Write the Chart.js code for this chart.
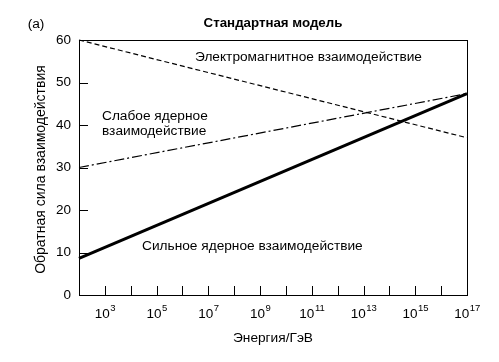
<!DOCTYPE html>
<html>
<head>
<meta charset="utf-8">
<script src="https://cdn.jsdelivr.net/npm/chart.js@4"></script>
<style>
  html, body { margin: 0; padding: 0; background: #fff; }
  canvas { display: block; }
</style>
</head>
<body>
<canvas id="chart" width="499" height="362"></canvas>
<script>
// energy range (GeV) and inverse coupling at both ends
var energy = [1e2, 1e17];
var emInverse = [60, 37];
var weakInverse = [30, 47.4];
var strongInverse = [8.6, 47.4];

var xTickExponents = [3, 4, 5, 6, 7, 8, 9, 10, 11, 12, 13, 14, 15, 16];
var xLabelExponents = [3, 5, 7, 9, 11, 13, 15, 17];
var yTicks = [0, 10, 20, 30, 40, 50, 60];

var FONT = '"Liberation Sans", Arial, sans-serif';

function points(ys) {
  return energy.map(function (e, i) { return { x: e, y: ys[i] }; });
}

var decorations = {
  id: 'decorations',
  afterDraw: function (chart) {
    var ctx = chart.ctx;
    var a = chart.chartArea;
    var xs = chart.scales.x;
    var ys = chart.scales.y;
    ctx.save();
    ctx.strokeStyle = '#000';
    ctx.fillStyle = '#000';
    ctx.lineWidth = 1;

    // frame
    ctx.strokeRect(a.left + 0.5, a.top + 0.5, a.right - a.left, a.bottom - a.top);

    // inward ticks
    ctx.beginPath();
    xTickExponents.forEach(function (p) {
      var px = Math.round(xs.getPixelForValue(Math.pow(10, p))) + 0.5;
      ctx.moveTo(px, a.bottom);
      ctx.lineTo(px, a.bottom - 9);
    });
    yTicks.forEach(function (v) {
      if (v === 0 || v === 60) return;
      var py = Math.round(ys.getPixelForValue(v)) + 0.5;
      ctx.moveTo(a.left, py);
      ctx.lineTo(a.left + 9, py);
    });
    ctx.stroke();

    // y tick labels
    ctx.font = '13.5px ' + FONT;
    ctx.textAlign = 'right';
    ctx.textBaseline = 'middle';
    yTicks.forEach(function (v) {
      ctx.fillText(String(v), a.left - 8, ys.getPixelForValue(v));
    });

    // x tick labels 10^n
    xLabelExponents.forEach(function (p) {
      var px = xs.getPixelForValue(Math.pow(10, p));
      var base = '10', exp = String(p);
      ctx.font = '13.5px ' + FONT;
      var wb = ctx.measureText(base).width;
      ctx.font = '9.5px ' + FONT;
      var we = ctx.measureText(exp).width;
      var x0 = px - (wb + we) / 2;
      ctx.textAlign = 'left';
      ctx.textBaseline = 'alphabetic';
      ctx.font = '13.5px ' + FONT;
      ctx.fillText(base, x0, a.bottom + 23);
      ctx.font = '9.5px ' + FONT;
      ctx.fillText(exp, x0 + wb + 0.5, a.bottom + 16);
    });

    // titles
    ctx.textBaseline = 'middle';
    ctx.textAlign = 'center';
    ctx.font = 'bold 13.3px ' + FONT;
    ctx.fillText('Стандартная модель', (a.left + a.right) / 2, 23);
    ctx.font = '13.7px ' + FONT;
    ctx.fillText('(a)', 36, 24);
    ctx.fillText('Энергия/ГэВ', (a.left + a.right) / 2, 338);

    ctx.save();
    ctx.font = '14px ' + FONT;
    ctx.translate(41, (a.top + a.bottom) / 2 + 2);
    ctx.rotate(-Math.PI / 2);
    ctx.fillText('Обратная сила взаимодействия', 0, 0);
    ctx.restore();

    // line annotations
    ctx.textAlign = 'left';
    ctx.fillText('Электромагнитное взаимодействие', 195, 57);
    ctx.fillText('Слабое ядерное', 102, 116);
    ctx.fillText('взаимодействие', 102, 131);
    ctx.fillText('Сильное ядерное взаимодействие', 142, 246);
    ctx.restore();
  }
};

var ctx = document.getElementById('chart').getContext('2d');
var chart = new Chart(ctx, {
  type: 'line',
  data: {
    datasets: [{
      label: 'Электромагнитное взаимодействие',
      data: points(emInverse),
      borderColor: '#000',
      borderWidth: 1.2,
      borderDash: [5, 3],
      pointRadius: 0
    }, {
      label: 'Слабое ядерное взаимодействие',
      data: points(weakInverse),
      borderColor: '#000',
      borderWidth: 1.2,
      borderDash: [10, 3, 2, 3],
      pointRadius: 0
    }, {
      label: 'Сильное ядерное взаимодействие',
      data: points(strongInverse),
      borderColor: '#000',
      borderWidth: 3,
      pointRadius: 0
    }]
  },
  options: {
    responsive: false,
    animation: false,
    clip: false,
    layout: { padding: { left: 79, right: 32, top: 40, bottom: 67 } },
    plugins: { legend: { display: false }, tooltip: { enabled: false } },
    scales: {
      x: { type: 'logarithmic', min: 1e2, max: 1e17, display: false },
      y: { type: 'linear', min: 0, max: 60, display: false }
    }
  },
  plugins: [decorations]
});
</script>
</body>
</html>
